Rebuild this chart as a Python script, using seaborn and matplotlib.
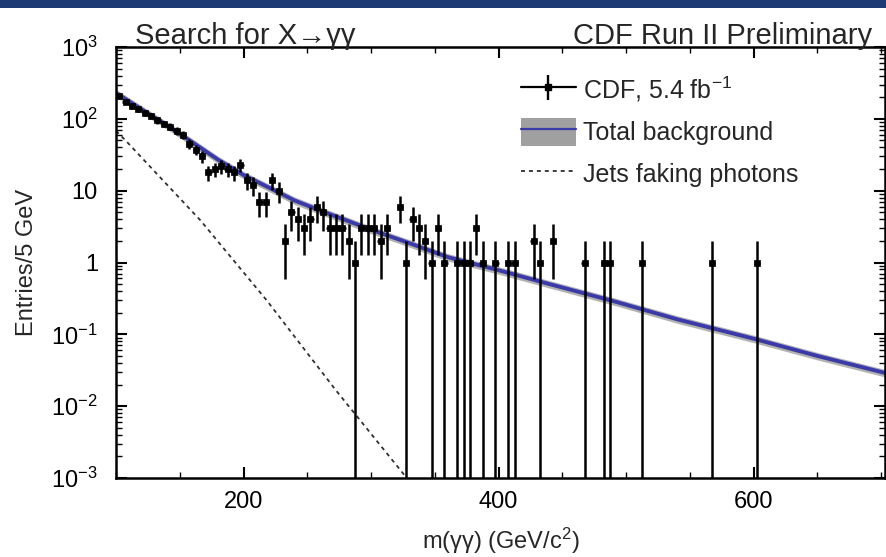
import numpy as np
import pandas as pd
import matplotlib
matplotlib.use("Agg")
import matplotlib.pyplot as plt
import seaborn as sns
from matplotlib.lines import Line2D
from matplotlib.patches import Patch, Rectangle
from matplotlib.ticker import FixedLocator, FixedFormatter, LogLocator, MultipleLocator, NullFormatter

# ---------------- data ----------------
data_mass = [102.5, 107.5, 112.5, 117.5, 122.5, 127.5, 132.5, 137.5, 142.5, 147.5,
             152.5, 157.5, 162.5, 167.5, 172.5, 177.5, 182.5, 187.5, 192.5, 197.5,
             202.5, 207.5, 212.5, 217.5, 222.5, 227.5, 232.5, 237.5, 242.5, 247.5,
             252.5, 257.5, 262.5, 267.5, 272.5, 277.5, 282.5, 287.5, 292.5, 297.5,
             302.5, 307.5, 312.5, 322.5, 327.5, 332.5, 337.5, 342.5, 347.5, 352.5,
             357.5, 367.5, 372.5, 377.5, 382.5, 387.5, 397.5, 407.5, 412.5, 427.5,
             432.5, 442.5, 467.5, 482.5, 487.5, 512.5, 567.5, 602.5]
data_counts = [205, 172, 150, 135, 120, 110, 95, 85, 78, 68,
               60, 45, 37, 30, 18, 20, 22, 20, 18, 23,
               14, 12, 7, 7, 14, 10, 2, 5, 4, 3,
               4, 6, 5, 3, 3, 3, 2, 1, 3, 3,
               3, 2, 3, 6, 1, 4, 3, 2, 1, 3,
               1, 1, 1, 1, 3, 1, 1, 1, 1, 2,
               1, 2, 1, 1, 1, 1, 1, 1]

bkg_mass = [100, 120, 140, 160, 180, 200, 220, 240, 260, 280, 300, 330, 360,
            400, 440, 490, 540, 600, 650, 703]
bkg_value = [229, 136, 81, 47, 27, 16.5, 11.0, 7.3, 5.3, 3.9, 2.86, 1.86, 1.19,
             0.78, 0.50, 0.29, 0.162, 0.087, 0.050, 0.029]

jets_mass = [100, 107.5, 166, 218, 272, 328]
jets_value = [68, 50, 3.9, 0.30, 0.017, 0.001]

x_ticks = [200, 400, 600]
x_tick_labels = ["200", "400", "600"]
y_ticks = [1e-3, 1e-2, 1e-1, 1, 10, 100, 1000]
y_tick_labels = [r"$10^{-3}$", r"$10^{-2}$", r"$10^{-1}$", "1", "10", r"$10^{2}$", r"$10^{3}$"]

# ---------------- style ----------------
sns.set_theme(style="ticks")
plt.rcParams["font.family"] = ["Liberation Sans", "DejaVu Sans"]
plt.rcParams["mathtext.fontset"] = "custom"
plt.rcParams["mathtext.rm"] = "Liberation Sans"
plt.rcParams["mathtext.it"] = "Liberation Sans:italic"
plt.rcParams["mathtext.bf"] = "Liberation Sans:bold"

W, H = 886, 557
fig = plt.figure(figsize=(W / 100, H / 100), dpi=100)
fig.patch.set_facecolor("white")
# dark slide header strip
fig.patches.append(Rectangle((0, 1 - 8 / H), 1, 8 / H, transform=fig.transFigure,
                             facecolor="#1e3a74", edgecolor="none", zorder=0))

left, right, top, bottom = 116, 885, 47, 478
ax = fig.add_axes([left / W, 1 - bottom / H, (right - left) / W, (bottom - top) / H])

df_bkg = pd.DataFrame({"mass": bkg_mass, "value": bkg_value})
df_jets = pd.DataFrame({"mass": jets_mass, "value": jets_value})
df_data = pd.DataFrame({"mass": data_mass, "count": data_counts})

blue = "#3a3aa8"
bk = np.array(bkg_value)
ax.fill_between(bkg_mass, bk * 0.88, bk * 1.12, color="#b2b2b2", lw=0, zorder=1)
sns.lineplot(data=df_bkg, x="mass", y="value", color=blue, lw=2.8, ax=ax, zorder=2)
sns.lineplot(data=df_jets, x="mass", y="value", color="#303030", lw=1.3, ax=ax,
             linestyle=(0, (2.2, 2.2)), zorder=2)

n = df_data["count"].to_numpy(dtype=float)
lo = np.minimum(np.sqrt(n), n - 1e-6)
hi = np.sqrt(n)
ax.errorbar(df_data["mass"], n, yerr=[lo, hi], xerr=2.5, fmt="none",
            ecolor="black", elinewidth=1.8, capsize=0, zorder=3)
sns.scatterplot(data=df_data, x="mass", y="count", marker="s", s=16, color="black",
                edgecolor="black", linewidth=0.5, ax=ax, zorder=4)

ax.set_yscale("log")
ax.set_xlim(100, 703)
ax.set_ylim(1e-3, 1e3)
ax.xaxis.set_major_locator(FixedLocator(x_ticks))
ax.xaxis.set_major_formatter(FixedFormatter(x_tick_labels))
ax.xaxis.set_minor_locator(MultipleLocator(50))
ax.yaxis.set_major_locator(FixedLocator(y_ticks))
ax.yaxis.set_major_formatter(FixedFormatter(y_tick_labels))
ax.yaxis.set_minor_locator(LogLocator(base=10, subs=np.arange(2, 10)))
ax.yaxis.set_minor_formatter(NullFormatter())
ax.tick_params(which="both", direction="in", top=True, right=True, colors="black")
ax.tick_params(which="major", length=8, width=1.5, labelsize=17)
ax.tick_params(axis="x", which="major", pad=9)
ax.tick_params(axis="y", which="major", pad=13)
ax.tick_params(which="minor", length=4, width=1.0)
for s in ax.spines.values():
    s.set_linewidth(1.8)
    s.set_color("black")

ax.set_xlabel("m(γγ) (GeV/c$^{2}$)", fontsize=17)
ax.set_ylabel("Entries/5 GeV", fontsize=17)
ax.xaxis.set_label_coords(0.5, -(526 - bottom) / (bottom - top))
ax.yaxis.set_label_coords(-(left - 38) / (right - left), 0.5)

fig.text(135 / W, 1 - 44 / H, "Search for X→γγ", ha="left", va="baseline", fontsize=21)
fig.text(872 / W, 1 - 44 / H, "CDF Run II Preliminary", ha="right", va="baseline", fontsize=21)

h1 = (Line2D([], [], color="black", lw=1.6),
      Line2D([], [], color="black", marker="|", markersize=18, mew=1.7, ls="none"),
      Line2D([], [], color="black", marker="s", markersize=5, ls="none"))
h2 = (Patch(facecolor="#a0a0a0", edgecolor="none"), Line2D([], [], color=blue, lw=1.6))
h3 = Line2D([], [], color="#303030", lw=1.3, linestyle=(0, (2.2, 2.2)))
ax.legend([h1, h2, h3], ["CDF, 5.4 fb$^{-1}$", "Total background", "Jets faking photons"],
          loc="upper left", bbox_to_anchor=((503 - left) / (right - left), (bottom - 57) / (bottom - top)),
          frameon=False, fontsize=18, handlelength=2.2, handleheight=1.35,
          handletextpad=0.3, labelspacing=0.55, borderpad=0.2)

fig.savefig("out.png", dpi=100)
